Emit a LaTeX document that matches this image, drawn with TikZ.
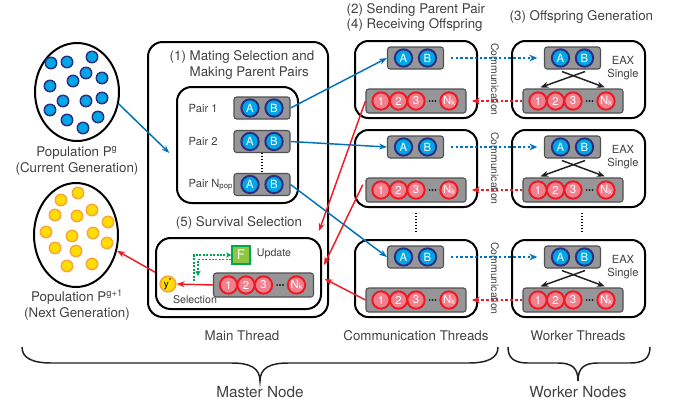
\documentclass[tikz,border=0pt]{standalone}
\usepackage{fontspec}
\setmainfont{TeX Gyre Heros}
\usetikzlibrary{arrows.meta,calc,shapes.geometric}

\definecolor{cTxt}{RGB}{65,64,66}
\definecolor{cNavy}{RGB}{43,46,131}
\definecolor{cCyan}{RGB}{0,167,230}
\definecolor{cBarF}{RGB}{150,150,152}
\definecolor{cBarD}{RGB}{80,80,82}
\definecolor{cRed}{RGB}{237,28,36}
\definecolor{cPink}{RGB}{240,128,142}
\definecolor{cYel}{RGB}{255,221,0}
\definecolor{cOrg}{RGB}{248,166,60}
\definecolor{cGrnF}{RGB}{141,198,63}
\definecolor{cGrnD}{RGB}{0,166,81}
\definecolor{cBlue}{RGB}{0,114,188}
\definecolor{cDark}{RGB}{35,31,32}

\newcommand\subk{\raisebox{-1.2pt}{\fontsize{5.5}{6}\selectfont k}}

\tikzset{
  every node/.style={text=cTxt},
  lbl/.style={font=\fontsize{10}{12}\selectfont},
  big/.style={font=\fontsize{11.5}{13}\selectfont},
  small/.style={font=\fontsize{8.4}{10.5}\selectfont},
  commlbl/.style={font=\fontsize{7.8}{9}\selectfont},
  tbox/.style={draw=black, line width=1.5pt, rounded corners=10pt, inner sep=0pt},
  graybar/.style={draw=cBarD, fill=cBarF, line width=0.8pt, rounded corners=2pt, inner sep=0pt},
  bluec/.style={circle, draw=cNavy, fill=cCyan, line width=1.5pt, minimum size=13pt, inner sep=0pt, text=white, font=\fontsize{8.5}{9}\selectfont},
  redcirc/.style={circle, draw=cRed, fill=cPink, line width=1.5pt, minimum size=13pt, inner sep=0pt, text=white, font=\fontsize{8.5}{9}\selectfont},
  popb/.style={circle, draw=cNavy, fill=cCyan, line width=1.1pt, minimum size=8.6pt, inner sep=0pt},
  popy/.style={circle, draw=cOrg, fill=cYel, line width=1.1pt, minimum size=8.6pt, inner sep=0pt},
  barrow/.style={draw=cBlue, line width=1.1pt, -{Stealth[length=6pt,width=4.5pt]}},
  rarrow/.style={draw=cRed, line width=1.1pt, -{Stealth[length=6pt,width=4.5pt]}},
  bdotted/.style={draw=cBlue, line width=1.4pt, dash pattern=on 2pt off 1.6pt, -{Stealth[length=6pt,width=5pt]}},
  rdotted/.style={draw=cRed, line width=1.4pt, dash pattern=on 2pt off 1.6pt, -{Stealth[length=6pt,width=5pt]}},
  gdotted/.style={draw=cGrnD, line width=1.3pt, dash pattern=on 1.5pt off 1.1pt, -{Stealth[length=4pt,width=4pt]}},
  xarrow/.style={draw=cDark, line width=1.1pt, -{Stealth[length=6pt,width=4.5pt]}},
  vdots/.style={draw=black, line width=1.2pt, dash pattern=on 1pt off 1.2pt},
  bracel/.style={draw=cDark, line width=1.1pt},
  elldot/.style={circle, fill=cDark, inner sep=0pt, minimum size=1.6pt},
}

\newcommand\ABbar[3]{%
  \node[graybar, minimum width=42pt, minimum height=16.5pt] (#1) at (#2,#3) {};
  \node[bluec] (#1a) at ([xshift=-9pt]#1.center) {A};
  \node[bluec] (#1b) at ([xshift=9pt]#1.center) {B};
}
\newcommand\NKbar[3]{%
  \node[graybar, minimum width=75pt, minimum height=18pt] (#1) at (#2,#3) {};
  \node[redcirc] (#1x) at ([xshift=-26.25pt]#1.center) {1};
  \node[redcirc] (#1y) at ([xshift=-13.1pt]#1.center) {2};
  \node[redcirc] (#1z) at (#1.center) {3};
  \node[elldot] (#1p) at ([xshift=10.2pt]#1.center) {};
  \node[elldot] (#1q) at ([xshift=12.4pt]#1.center) {};
  \node[elldot] (#1r) at ([xshift=14.6pt]#1.center) {};
  \node[redcirc] (#1n) at ([xshift=24.75pt]#1.center) {N\subk};
}
\newcommand\commbox[2]{%
  \node[tbox, minimum width=91.5pt, minimum height=57.75pt] (c#1) at (416,#2+38.5) {};
  \ABbar{c#1ab}{415.5}{#2+17}
  \NKbar{c#1nk}{416}{#2+60}
  \node[commlbl, rotate=-90] (c#1t) at (495,#2+38.5) {Communication};
}
\newcommand\workbox[2]{%
  \node[tbox, minimum width=99.75pt, minimum height=57.75pt] (w#1) at (578.5,#2+38.5) {};
  \ABbar{w#1ab}{572.5}{#2+17}
  \NKbar{w#1nk}{573}{#2+60}
  \node[small] (w#1t) at (623,#2+27) {\shortstack{EAX\\Single}};
  \draw[xarrow] ([xshift=-7.9pt,yshift=-1.5pt]w#1ab.south) -- ([xshift=24pt,yshift=0.75pt]w#1nk.north);
  \draw[xarrow] ([xshift=9.4pt,yshift=-1.5pt]w#1ab.south) -- ([xshift=-24.5pt,yshift=0.75pt]w#1nk.north);
  \draw[bdotted, shorten <=5pt, shorten >=5pt] (c#1ab.east) -- (w#1ab.west);
  \draw[rdotted, shorten >=4pt] (w#1nk.west) -- (c#1nk.east);
}

\begin{document}
\begin{tikzpicture}[x=0.75pt,y=-0.75pt]
\useasboundingbox (0,0) rectangle (678,412);

% ---------- populations ----------
\node[ellipse, draw=black, line width=1.5pt, minimum width=63pt, minimum height=73.5pt, inner sep=0pt] (popg) at (77,92) {};
\foreach \p [count=\i] in {(51,63),(67,62),(92,57),(86,73),(102,78),(73,81),(50,86),(63,101),(86,101),(102,98),(50,110),(67,120),(98,117),(83,128)}
  \node[popb] (gb\i) at \p {};
\node[lbl, align=center] (popgt) at (77,161) {Population P\textsuperscript{g}\\(Current Generation)};

\node[ellipse, draw=black, line width=1.5pt, minimum width=63pt, minimum height=78pt, inner sep=0pt] (popn) at (76,235) {};
\foreach \p [count=\i] in {(78,193),(61,200),(92,210),(55,215),(77,216),(108,222),(46,232),(72,236),(93,233),(107,243),(55,248),(76,251),(67,266),(92,264)}
  \node[popy] (yb\i) at \p {};
\node[lbl, align=center] (popnt) at (77,305) {Population P\textsuperscript{g+1}\\(Next Generation)};

% ---------- main thread ----------
\node[tbox, rounded corners=11pt, minimum width=135pt, minimum height=206.25pt] (main) at (238,179.5) {};
\node[lbl, align=left, anchor=west] (t1) at (165,65) {(1) Mating Selection and\\\phantom{(1) }Making Parent Pairs};
\node[tbox, rounded corners=11pt, minimum width=90.75pt, minimum height=87pt] (pairs) at (237.5,145) {};
\ABbar{p1}{262}{108}
\ABbar{p2}{262}{141.5}
\ABbar{pn}{262}{184.5}
\node[small, anchor=west] (p1t) at (184,108) {Pair 1};
\node[small, anchor=west] (p2t) at (184,141.5) {Pair 2};
\node[small, anchor=west] (pnt) at (184,184.5) {Pair N\textsubscript{pop}};
\draw[vdots, shorten >=1.5pt] (p2.south) -- (pn.north);

\node[lbl] (t5) at (239,223) {(5) Survival Selection};
\node[tbox, rounded corners=11pt, minimum width=123.75pt, minimum height=53.25pt] (surv) at (238.5,273.5) {};
\NKbar{mnk}{263.5}{285}
\node[draw=cGrnD, fill=cGrnF, line width=1pt, minimum size=13.5pt, inner sep=0pt, text=white, font=\fontsize{10}{10}\selectfont] (F) at (241,255) {F};
\node[small, font=\fontsize{8}{10}\selectfont] (upd) at (274,254) {Update};
\node[circle, draw=cOrg, fill=cYel, line width=1.3pt, minimum size=11.7pt, inner sep=0pt, text=black, font=\fontsize{7.5}{8}\selectfont] (ystar) at (168,284) {y\textsuperscript{*}};
\node[small, font=\fontsize{8}{10}\selectfont] (sel) at (195,300) {Selection};
\draw[rarrow] (mnk.west) -- (ystar.east);
\coordinate (g1) at (194,281);
\coordinate (g2) at (198,276);
\draw[gdotted] (g1) |- (F.west);
\draw[gdotted] ([yshift=-3.3pt]F.west) -| (g2);

% ---------- communication + worker threads ----------
\node[lbl, align=left, anchor=west, font=\fontsize{10}{11.3}\selectfont] (t24) at (342,17.5) {(2) Sending Parent Pair\\(4) Receiving Offspring};
\node[lbl, anchor=west] (t3) at (505,17) {(3) Offspring Generation};

\commbox{1}{41}
\commbox{2}{130}
\commbox{3}{240}
\workbox{1}{41}
\workbox{2}{130}
\workbox{3}{240}
\draw[vdots, shorten <=3.7pt, shorten >=5pt] (c2.south) -- (c3.north);
\draw[vdots, shorten <=3.7pt, shorten >=5pt] ([xshift=2.6pt]w2.south) -- ([xshift=2.6pt]w3.north);

% ---------- connections ----------
\draw[barrow] (popg.-16) -- ([xshift=-5pt,yshift=-6pt]pairs.west);
\draw[barrow] (p1.east) -- (c1ab.west);
\draw[barrow] (p2.east) -- (c2ab.west);
\draw[barrow] (pn.east) -- (c3ab.west);
\draw[rarrow] (c1nk.west) -- ([xshift=-2.25pt,yshift=4.5pt]surv.north east);
\draw[rarrow] ([xshift=-2pt,yshift=4pt]c2nk.west) -- ([xshift=1.5pt,yshift=6.4pt]surv.east);
\draw[rarrow] (c3nk.west) -- ([xshift=2pt,yshift=-4pt]surv.east);
\draw[rarrow] ([yshift=1pt]surv.west) -- (popn.-21);

% ---------- bottom labels and braces ----------
\node[lbl] (lm) at (242,336) {Main Thread};
\node[lbl] (lc) at (416,336) {Communication Threads};
\node[lbl] (lw) at (578,336) {Worker Threads};
\draw[bracel] (22,347) .. controls (22,358) and (32,363) .. (52,363) -- (232,363)
  .. controls (250,363) and (260,368) .. (260,381)
  .. controls (260,368) and (270,363) .. (288,363) -- (468,363)
  .. controls (488,363) and (498,358) .. (498,347);
\draw[bracel] (508,347) .. controls (508,358) and (514,363) .. (528,363) -- (558,363)
  .. controls (572,363) and (578,368) .. (578,381)
  .. controls (578,368) and (584,363) .. (598,363) -- (630,363)
  .. controls (644,363) and (650,358) .. (650,347);
\node[big] (lmn) at (260,392) {Master Node};
\node[big] (lwn) at (578,392) {Worker Nodes};
\end{tikzpicture}
\end{document}
